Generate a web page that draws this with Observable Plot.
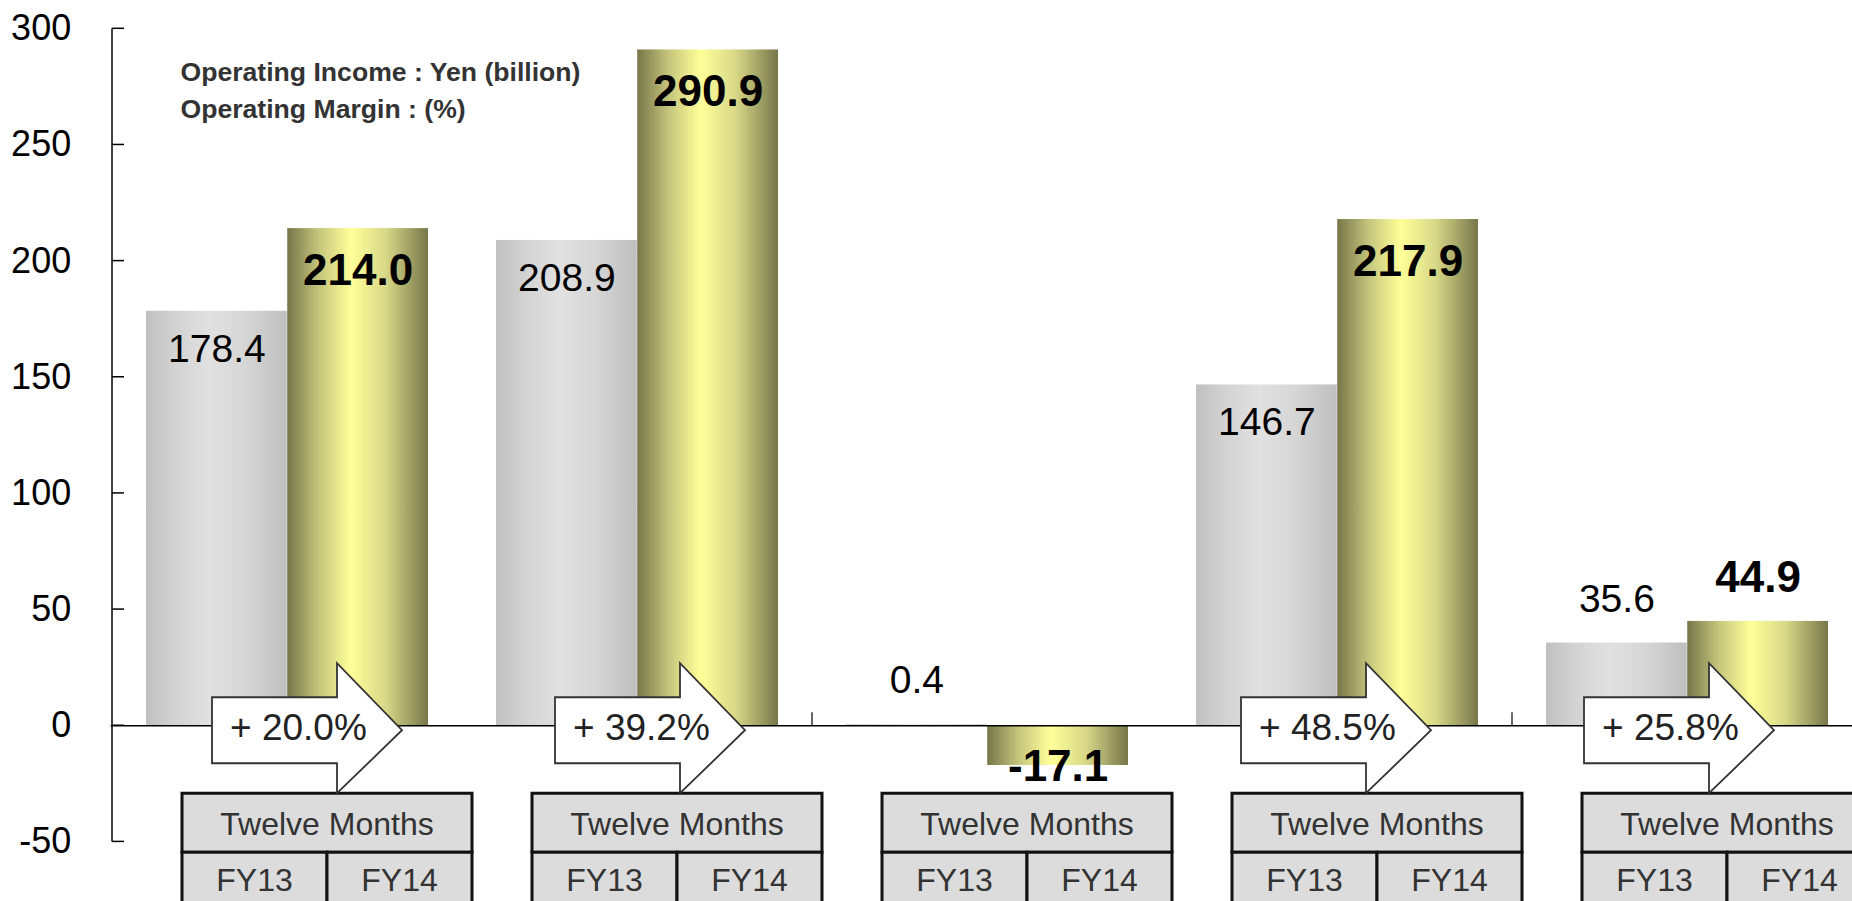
<!DOCTYPE html>
<html>
<head>
<meta charset="utf-8">
<script src="https://cdn.jsdelivr.net/npm/d3@7"></script>
<script src="https://cdn.jsdelivr.net/npm/@observablehq/plot@0.6"></script>
<style>
  html, body { margin: 0; padding: 0; background: #fff; overflow: hidden; }
  svg { display: block; }
</style>
</head>
<body>
<div id="chart"></div>
<script>
// ---- data ----
const segments = ["Segment A", "Segment B", "Segment C", "Segment D", "Segment E"];
const seriesNames = ["FY13", "FY14"];
const fy13 = [178.4, 208.9, 0.4, 146.7, 35.6];
const fy14 = [214.0, 290.9, -17.1, 217.9, 44.9];
const growth = ["+ 20.0%", "+ 39.2%", null, "+ 48.5%", "+ 25.8%"];
const periodLabel = "Twelve Months";
const yTicks = [-50, 0, 50, 100, 150, 200, 250, 300];
const notes = ["Operating Income : Yen (billion)", "Operating Margin : (%)"];

// ---- layout ----
const W = 1852, H = 901;
const xRange = [110.7, 1863];
const bw = (xRange[1] - xRange[0]) / segments.length;
const pad = 34;
const barW = bw / 2 - pad;
const FONT = "'Liberation Sans', Arial, Helvetica, sans-serif";

const rows13 = segments.map((s, i) => ({segment: s, series: seriesNames[0], value: fy13[i]}));
const rows14 = segments.map((s, i) => ({segment: s, series: seriesNames[1], value: fy14[i]}));
const labelDx = bw / 2 - pad - barW / 2;

function axisMark(index, {x, y}) {
  const g = d3.create("svg:g");
  const x0 = x(segments[0]);
  g.append("line").attr("x1", x0).attr("x2", x0)
    .attr("y1", y(yTicks[yTicks.length - 1])).attr("y2", y(yTicks[0]))
    .attr("stroke", "#000").attr("stroke-width", 1.5);
  for (const t of yTicks) {
    g.append("line").attr("x1", x0).attr("x2", x0 + 12)
      .attr("y1", y(t)).attr("y2", y(t))
      .attr("stroke", "#000").attr("stroke-width", 1.5);
  }
  // category boundary ticks (every second boundary)
  for (const i of [2, 4]) {
    const bx = x(segments[i]);
    g.append("line").attr("x1", bx).attr("x2", bx)
      .attr("y1", y(0)).attr("y2", y(0) - 13)
      .attr("stroke", "#000").attr("stroke-width", 1.2);
  }
  return g.node();
}

function arrowsAndTables(index, {x, y}) {
  const g = d3.create("svg:g").attr("font-family", FONT);
  const y0 = y(0);
  segments.forEach((s, i) => {
    const bx = x(s);
    // table
    const tx = bx + 70, tw = 290;
    const t = g.append("g");
    t.append("rect").attr("x", tx).attr("y", y0 + 68).attr("width", tw).attr("height", 59)
      .attr("fill", "#dcdcdc").attr("stroke", "#111").attr("stroke-width", 3);
    t.append("rect").attr("x", tx).attr("y", y0 + 127).attr("width", tw / 2).attr("height", 62)
      .attr("fill", "#dcdcdc").attr("stroke", "#111").attr("stroke-width", 3);
    t.append("rect").attr("x", tx + tw / 2).attr("y", y0 + 127).attr("width", tw / 2).attr("height", 62)
      .attr("fill", "#dcdcdc").attr("stroke", "#111").attr("stroke-width", 3);
    t.append("text").attr("x", tx + tw / 2).attr("y", y0 + 110).attr("text-anchor", "middle")
      .attr("font-size", 32).attr("fill", "#333").text(periodLabel);
    seriesNames.forEach((n, k) => {
      t.append("text").attr("x", tx + tw / 4 + k * tw / 2).attr("y", y0 + 166).attr("text-anchor", "middle")
        .attr("font-size", 32).attr("fill", "#333").text(n);
    });
  });
  segments.forEach((s, i) => {
    if (!growth[i]) return;
    const bx = x(s);
    const sx = bx + 100 - 7 * i;
    const pts = [
      [sx, y0 - 28], [sx + 125, y0 - 28], [sx + 125, y0 - 62], [sx + 190, y0 + 5],
      [sx + 125, y0 + 68], [sx + 125, y0 + 38], [sx, y0 + 38]
    ];
    g.append("polygon").attr("points", pts.map(p => p.join(",")).join(" "))
      .attr("fill", "#fff").attr("stroke", "#333").attr("stroke-width", 1.8).attr("stroke-linejoin", "miter");
    g.append("text").attr("x", sx + 18).attr("y", y0 + 15).attr("text-anchor", "start")
      .attr("font-size", 37).attr("fill", "#222").text(growth[i]);
  });
  return g.node();
}

const fmt = v => v.toFixed(1);

const svg = Plot.plot({
  width: W,
  height: H,
  marginLeft: xRange[0],
  marginRight: 0,
  marginTop: 0,
  marginBottom: 0,
  style: {fontFamily: FONT, background: "#fff", overflow: "visible", color: "#000"},
  x: {type: "band", domain: segments, range: xRange, padding: 0, axis: null},
  y: {domain: [-50, 300], range: [841.4, 28.3], axis: null},
  marks: [
    Plot.barY(rows13, {x: "segment", y: "value", fill: "url(#gradGray)", insetLeft: pad, insetRight: bw - pad - barW}),
    Plot.barY(rows14, {x: "segment", y: "value", fill: "url(#gradGold)", insetLeft: bw - pad - barW, insetRight: pad}),
    Plot.ruleY([0], {stroke: "#000", strokeWidth: 1.5}),
    axisMark,
    Plot.text(yTicks, {y: d => d, text: d => String(d), frameAnchor: "left", dx: -40, textAnchor: "end", fontSize: 36, fill: "#000"}),
    arrowsAndTables,
    // FY13 labels
    Plot.text(rows13.filter(d => d.value >= 100), {x: "segment", y: "value", text: d => fmt(d.value), dx: -labelDx, dy: 38, fontSize: 39, fill: "#000"}),
    Plot.text(rows13.filter(d => d.value >= 0 && d.value < 100), {x: "segment", y: "value", text: d => fmt(d.value), dx: -labelDx, dy: -44, fontSize: 39, fill: "#000"}),
    // FY14 labels
    Plot.text(rows14.filter(d => d.value >= 100), {x: "segment", y: "value", text: d => fmt(d.value), dx: labelDx, dy: 42, fontSize: 44, fontWeight: "bold", fill: "#000"}),
    Plot.text(rows14.filter(d => d.value >= 0 && d.value < 100), {x: "segment", y: "value", text: d => fmt(d.value), dx: labelDx, dy: -44, fontSize: 44, fontWeight: "bold", fill: "#000"}),
    Plot.text(rows14.filter(d => d.value < 0), {x: "segment", y: "value", text: d => fmt(d.value), dx: labelDx, dy: 1, fontSize: 44, fontWeight: "bold", fill: "#000"}),
    // notes
    Plot.text([notes[0]], {text: d => d, frameAnchor: "top-left", textAnchor: "start", lineAnchor: "bottom", dx: 180 - xRange[0], dy: 80, fontSize: 26.6, fontWeight: "bold", fill: "#333"}),
    Plot.text([notes[1]], {text: d => d, frameAnchor: "top-left", textAnchor: "start", lineAnchor: "bottom", dx: 180 - xRange[0], dy: 117, fontSize: 26.6, fontWeight: "bold", fill: "#333"})
  ]
});

const defs = d3.select(svg).insert("defs", ":first-child");
const gGray = defs.append("linearGradient").attr("id", "gradGray").attr("x1", 0).attr("x2", 1).attr("y1", 0).attr("y2", 0);
[[0, "#c0c0c0"], [0.2, "#d2d2d2"], [0.45, "#e1e1e1"], [0.7, "#d6d6d6"], [1, "#bfbfbf"]]
  .forEach(([o, c]) => gGray.append("stop").attr("offset", o).attr("stop-color", c));
const gGold = defs.append("linearGradient").attr("id", "gradGold").attr("x1", 0).attr("x2", 1).attr("y1", 0).attr("y2", 0);
[[0, "#76764a"], [0.22, "#c4c47c"], [0.45, "#ffff99"], [0.7, "#d8d888"], [1, "#76764a"]]
  .forEach(([o, c]) => gGold.append("stop").attr("offset", o).attr("stop-color", c));

document.getElementById("chart").appendChild(svg);
</script>
</body>
</html>
